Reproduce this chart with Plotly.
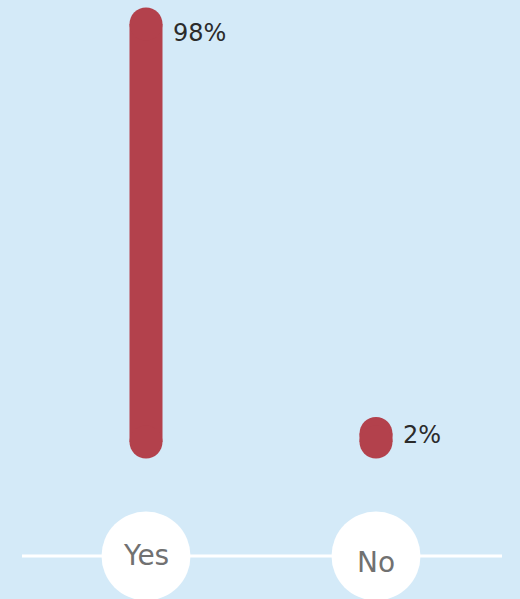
import plotly.graph_objects as go

categories = ["Yes", "No"]
values = [98, 2]
value_labels = ["98%", "2%"]

BAR_COLOR = "#b3414c"
BG = "#d4eaf8"
W, H = 520, 599

x_pos = list(range(len(categories)))
px_per_x = 230.0
x0_px = 146.0
xr = [-x0_px / px_per_x, (W - x0_px) / px_per_x]
px_per_v = 4.265
zero_px = 442.0
yr = [(zero_px - H) / px_per_v, zero_px / px_per_v]

bar_w_px = 33
bar_w = bar_w_px / px_per_x
axis_y = (zero_px - 556) / px_per_v

fig = go.Figure()
# bar bodies
fig.add_trace(go.Bar(x=x_pos, y=values, base=0, width=bar_w,
                     marker=dict(color=BAR_COLOR, line=dict(width=0)),
                     hoverinfo="skip"))
# rounded caps
fig.add_trace(go.Scatter(x=x_pos + x_pos, y=values + [0] * len(values), mode="markers",
                         marker=dict(size=bar_w_px, color=BAR_COLOR, line=dict(width=0)),
                         hoverinfo="skip"))
# category circles
fig.add_trace(go.Scatter(x=x_pos, y=[axis_y] * len(x_pos), mode="markers",
                         marker=dict(size=89, color="white", line=dict(width=0)),
                         hoverinfo="skip"))

fig.add_shape(type="line", xref="paper", yref="y", x0=22 / W, x1=502 / W,
              y0=axis_y, y1=axis_y, line=dict(color="white", width=3), layer="below")

label_shift = [-9, -2]
for i, (v, t) in enumerate(zip(values, value_labels)):
    fig.add_annotation(x=x_pos[i], y=v, text=t, showarrow=False, xanchor="left",
                       yanchor="middle", xshift=bar_w_px / 2 + 8, yshift=label_shift[i],
                       font=dict(family="DejaVu Sans", size=24, color="#2b2b2b"))

cat_shift = [1, -6]
for i, c in enumerate(categories):
    fig.add_annotation(x=x_pos[i], y=axis_y, text=c, showarrow=False,
                       xanchor="center", yanchor="middle", yshift=cat_shift[i],
                       font=dict(family="DejaVu Sans", size=28, color="#717171"))

fig.update_layout(width=W, height=H, margin=dict(l=0, r=0, t=0, b=0),
                  paper_bgcolor=BG, plot_bgcolor=BG, showlegend=False,
                  xaxis=dict(range=xr, visible=False, fixedrange=True),
                  yaxis=dict(range=yr, visible=False, fixedrange=True))
fig.write_html("out.html", config={"displayModeBar": False},
               post_script="document.body.style.margin='0';document.body.style.padding='0';"
                           "document.body.style.overflow='hidden';"
                           "document.body.style.background='" + BG + "';")
